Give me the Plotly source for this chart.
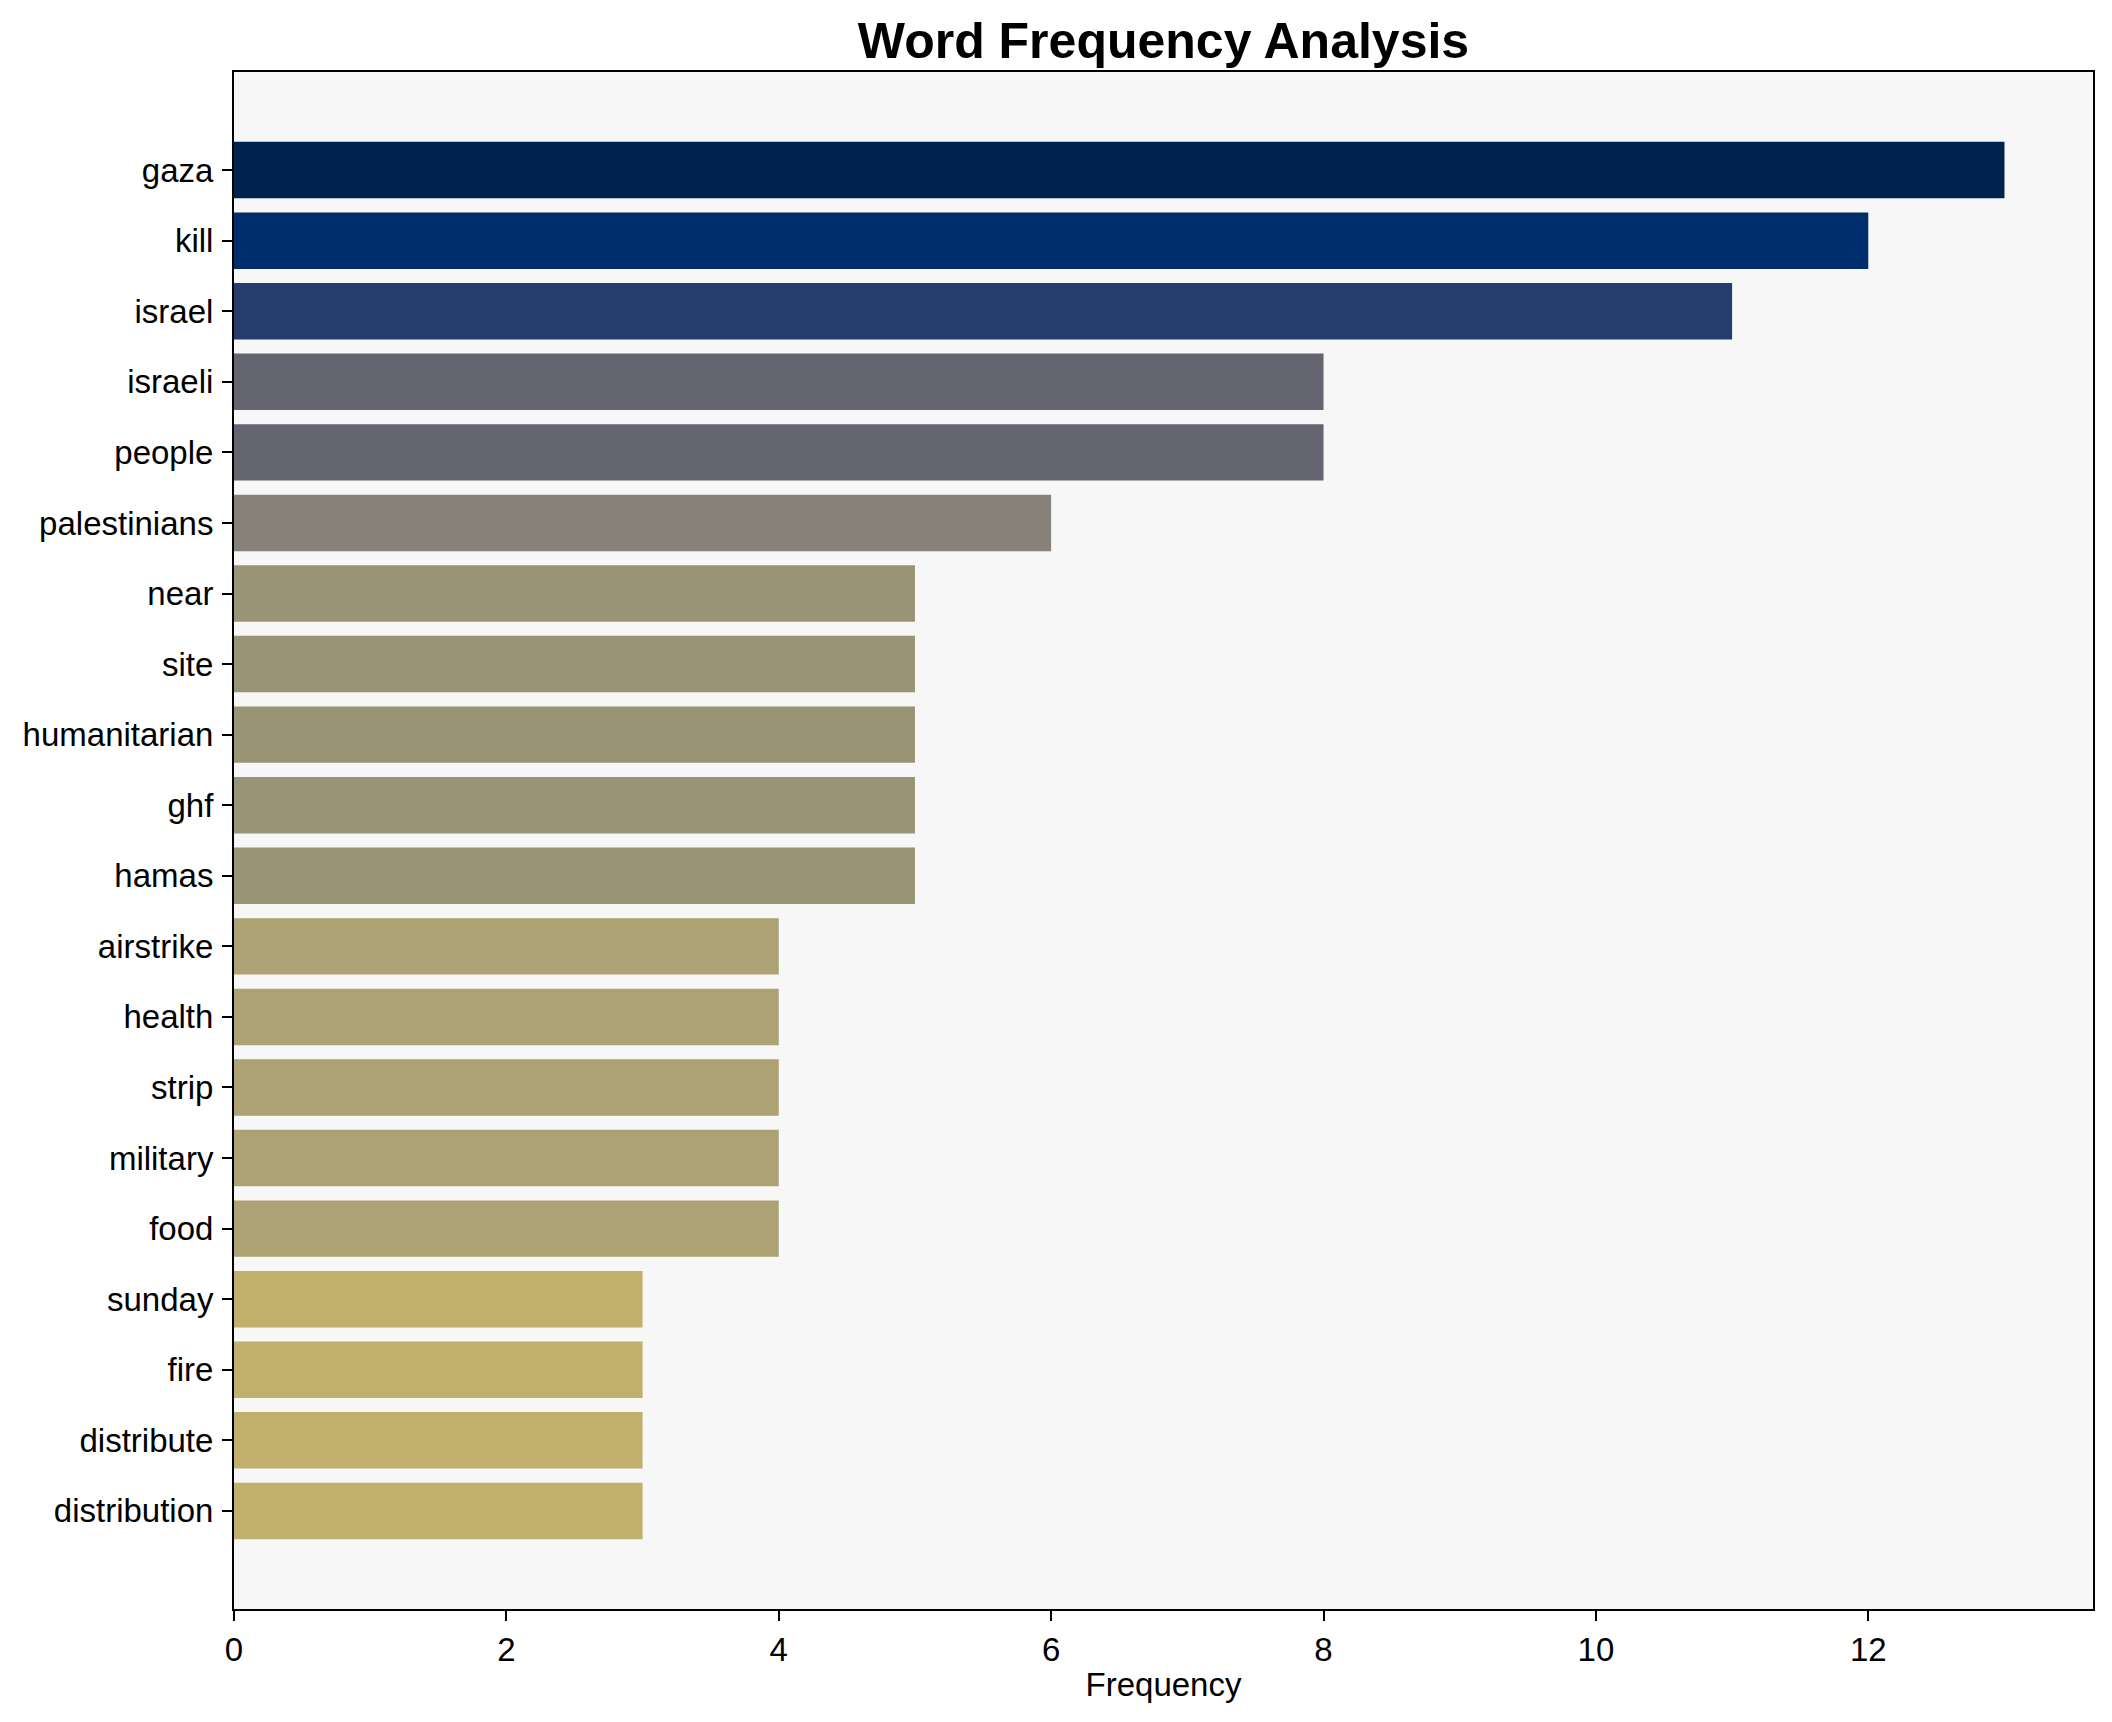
import plotly.graph_objects as go

words = ["gaza", "kill", "israel", "israeli", "people", "palestinians", "near", "site",
         "humanitarian", "ghf", "hamas", "airstrike", "health", "strip", "military", "food",
         "sunday", "fire", "distribute", "distribution"]
counts = [13, 12, 11, 8, 8, 6, 5, 5, 5, 5, 5, 4, 4, 4, 4, 4, 3, 3, 3, 3]
bar_colors = ["#00224e", "#002e6c", "#263c6d", "#646570", "#646570", "#86827a",
              "#999475", "#999475", "#999475", "#999475", "#999475",
              "#aca273", "#aca273", "#aca273", "#aca273", "#aca273",
              "#c0b06b", "#c0b06b", "#c0b06b", "#c0b06b"]
x_ticks = [0, 2, 4, 6, 8, 10, 12]

FONT = "Liberation Sans, Arial, sans-serif"

fig = go.Figure(go.Bar(
    x=counts, y=words, orientation="h",
    marker=dict(color=bar_colors, line=dict(width=0)),
    width=0.8,
))

n = len(words)
L, R, T, B = 226, 27, 64, 121
fig.update_layout(
    width=2112, height=1722,
    margin=dict(l=L, r=R, t=T, b=B),
    paper_bgcolor="white", plot_bgcolor="#f7f7f7",
    font=dict(family=FONT, size=33, color="black"),
    title=dict(text="<b>Word Frequency Analysis</b>", x=(L + 2112 - R) / 2 / 2112, xanchor="center",
               y=1 - 32 / 1722, yanchor="middle", font=dict(family=FONT, size=50, color="black")),
    showlegend=False,
    bargap=0.2,
)
fig.update_xaxes(
    range=[0, 13.65], tickvals=x_ticks, ticks="outside", ticklen=10, tickwidth=2, tickcolor="black",
    showline=True, linecolor="black", linewidth=2, mirror=True, showgrid=False, zeroline=False,
    title=dict(text="Frequency", font=dict(size=33), standoff=6),
    tickfont=dict(size=33), ticklabelstandoff=0,
)
fig.update_yaxes(
    categoryorder="array", categoryarray=words,
    range=[n - 1 + 1.39, -1.39], ticks="outside", ticklen=10, tickwidth=2, tickcolor="black",
    showline=True, linecolor="black", linewidth=2, mirror=True, showgrid=False, zeroline=False,
    tickfont=dict(size=33), ticklabelstandoff=2,
)

fig.write_html("out.html")
